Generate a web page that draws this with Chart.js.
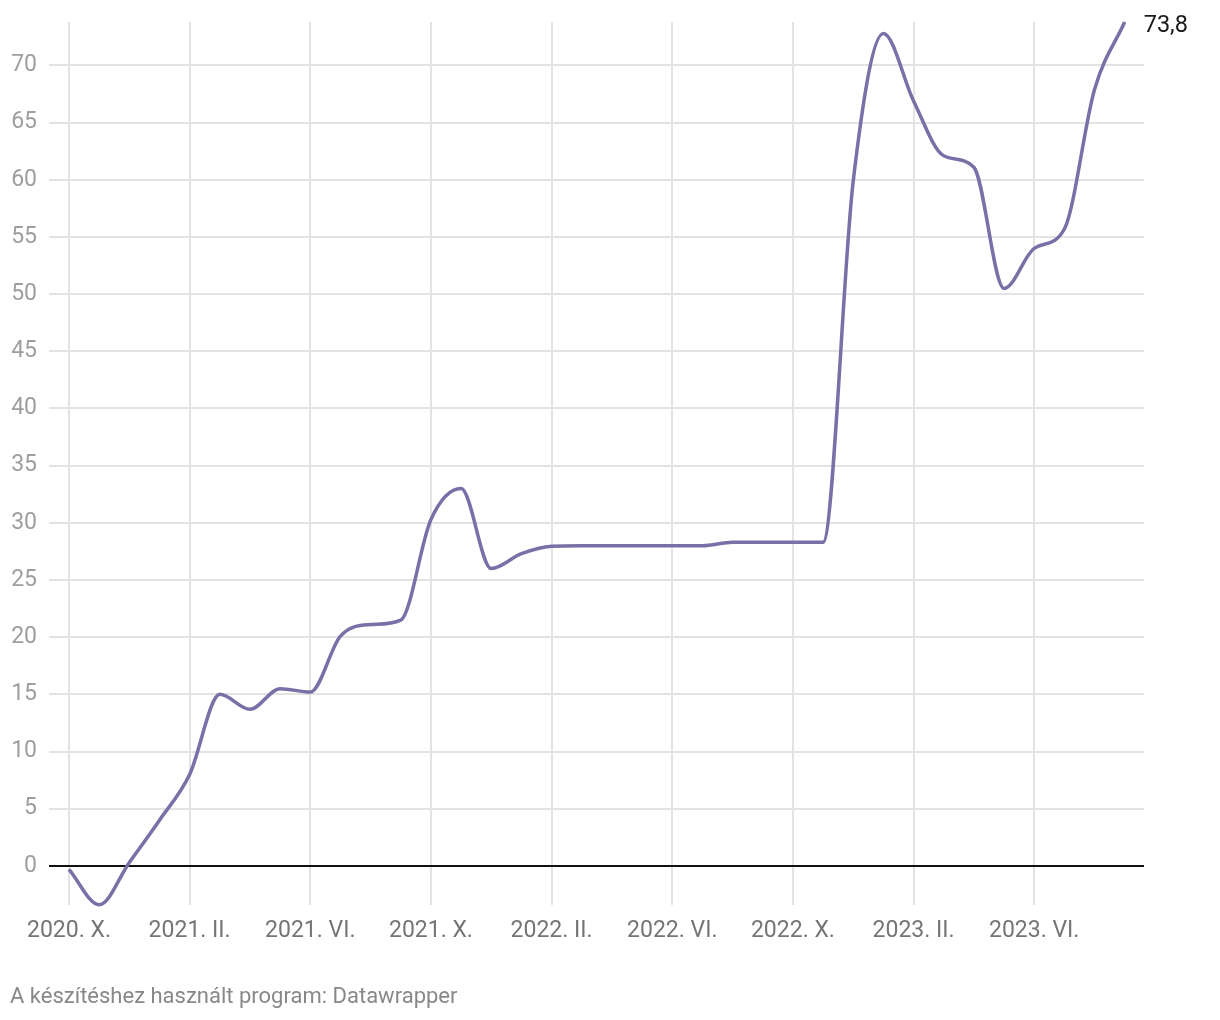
<!DOCTYPE html>
<html>
<head>
<meta charset="utf-8">
<script src="https://cdn.jsdelivr.net/npm/chart.js@4"></script>
<style>
  html, body { margin: 0; padding: 0; background: #fff; }
  #wrap { position: relative; width: 1220px; height: 1020px; }
  #footer { position: absolute; left: 10px; top: 983px; font-family: Roboto, sans-serif; font-size: 22px; color: #888; }
</style>
</head>
<body>
<div id="wrap">
  <canvas id="c" width="1220" height="1020"></canvas>
  <div id="footer">A készítéshez használt program: Datawrapper</div>
</div>
<script>
const months = [
  "2020. X.","2020. XI.","2020. XII.",
  "2021. I.","2021. II.","2021. III.","2021. IV.","2021. V.","2021. VI.","2021. VII.","2021. VIII.","2021. IX.","2021. X.","2021. XI.","2021. XII.",
  "2022. I.","2022. II.","2022. III.","2022. IV.","2022. V.","2022. VI.","2022. VII.","2022. VIII.","2022. IX.","2022. X.","2022. XI.","2022. XII.",
  "2023. I.","2023. II.","2023. III.","2023. IV.","2023. V.","2023. VI.","2023. VII.","2023. VIII.","2023. IX."
];
const values = [
  -0.3, -3.4, 0.3,
  4.0, 8.0, 15.0, 13.7, 15.5, 15.2, 20.1, 21.1, 21.5, 30.3, 33.0, 26.0,
  27.3, 27.95, 28.0, 28.0, 28.0, 28.0, 28.0, 28.3, 28.3, 28.3, 28.3, 59.9,
  72.8, 66.9, 62.1, 61.1, 50.5, 54.0, 55.7, 67.9, 73.8
];
const xTickIndexes = [0, 4, 8, 12, 16, 20, 24, 28, 32];
const yTickValues = [0, 5, 10, 15, 20, 25, 30, 35, 40, 45, 50, 55, 60, 65, 70];
const endLabel = "73,8";

const points = values.map((v, i) => ({ x: i, y: v }));

const endLabelPlugin = {
  id: 'endLabel',
  afterDatasetsDraw(chart) {
    const meta = chart.getDatasetMeta(0);
    const last = meta.data[meta.data.length - 1];
    const ctx = chart.ctx;
    ctx.save();
    ctx.font = '23.5px Roboto, sans-serif';
    ctx.fillStyle = '#1a1a1a';
    ctx.textAlign = 'left';
    ctx.textBaseline = 'middle';
    ctx.fillText(endLabel, last.x + 19, last.y + 4);
    ctx.restore();
  }
};

new Chart(document.getElementById('c'), {
  type: 'line',
  data: {
    datasets: [{
      data: points,
      borderColor: '#7a6fa6',
      borderWidth: 3.5,
      pointRadius: 0,
      pointHoverRadius: 0,
      cubicInterpolationMode: 'monotone',
      fill: false,
      clip: 8
    }]
  },
  options: {
    responsive: false,
    animation: false,
    events: [],
    layout: { padding: { top: 22, right: 76, left: 0, bottom: 0 } },
    plugins: { legend: { display: false }, tooltip: { enabled: false } },
    scales: {
      x: {
        type: 'linear',
        min: -0.663,
        max: 35.64,
        afterBuildTicks: s => { s.ticks = xTickIndexes.map(v => ({ value: v })); },
        afterFit: s => { s.height = 115; s.paddingLeft = 0; s.paddingRight = 0; },
        border: { display: false },
        grid: { color: '#e3e3e3', lineWidth: 2, drawTicks: false },
        ticks: {
          callback: v => months[v],
          color: '#757575',
          font: { family: 'Roboto', size: 23 },
          padding: 12,
          maxRotation: 0,
          autoSkip: false
        }
      },
      y: {
        min: -3.42,
        max: 73.8,
        afterBuildTicks: s => { s.ticks = yTickValues.map(v => ({ value: v })); },
        afterFit: s => { s.width = 49; s.paddingTop = 0; s.paddingBottom = 0; },
        border: { display: false },
        grid: {
          color: c => c.tick && c.tick.value === 0 ? '#111' : '#e3e3e3',
          lineWidth: 2,
          drawTicks: false
        },
        ticks: {
          color: '#9e9e9e',
          font: { family: 'Roboto', size: 23 },
          padding: 12
        }
      }
    }
  },
  plugins: [endLabelPlugin]
});
</script>
</body>
</html>
